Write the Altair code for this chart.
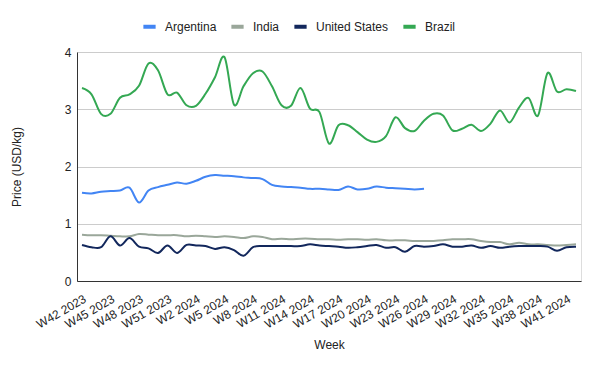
import altair as alt
import pandas as pd

weeks = ([f"W{w} 2023" for w in range(42, 53)] + [f"W{w} 2024" for w in range(1, 43)])
tick_labels = weeks[::3]

argentina = [1.54, 1.53, 1.56, 1.57, 1.58, 1.63, 1.37, 1.58, 1.64, 1.68,
             1.72, 1.70, 1.75, 1.82, 1.85, 1.84, 1.83, 1.81, 1.80, 1.78,
             1.68, 1.65, 1.64, 1.63, 1.61, 1.61, 1.60, 1.59, 1.65, 1.60,
             1.61, 1.65, 1.63, 1.62, 1.61, 1.60, 1.61]
india = [0.81, 0.80, 0.80, 0.79, 0.78, 0.78, 0.82, 0.81, 0.80, 0.80,
         0.80, 0.78, 0.79, 0.78, 0.77, 0.78, 0.77, 0.75, 0.78, 0.77,
         0.73, 0.74, 0.73, 0.74, 0.74, 0.73, 0.73, 0.72, 0.73, 0.73,
         0.72, 0.73, 0.71, 0.71, 0.71, 0.70, 0.70, 0.70, 0.71, 0.73,
         0.73, 0.73, 0.70, 0.68, 0.68, 0.64, 0.67, 0.64, 0.64, 0.63,
         0.62, 0.63, 0.64]
united_states = [0.63, 0.59, 0.59, 0.78, 0.62, 0.75, 0.60, 0.57, 0.49, 0.62,
                 0.49, 0.63, 0.62, 0.61, 0.56, 0.59, 0.54, 0.44, 0.59, 0.61,
                 0.61, 0.61, 0.61, 0.61, 0.64, 0.62, 0.61, 0.60, 0.58, 0.59,
                 0.61, 0.63, 0.58, 0.59, 0.51, 0.61, 0.60, 0.61, 0.64, 0.60,
                 0.60, 0.62, 0.58, 0.61, 0.58, 0.60, 0.61, 0.61, 0.61, 0.60,
                 0.53, 0.59, 0.60]
brazil = [3.37, 3.26, 2.92, 2.92, 3.20, 3.26, 3.41, 3.80, 3.68, 3.26,
          3.29, 3.07, 3.06, 3.27, 3.56, 3.91, 3.08, 3.40, 3.63, 3.66,
          3.40, 3.07, 3.06, 3.37, 3.01, 2.95, 2.40, 2.72, 2.72, 2.60,
          2.47, 2.43, 2.53, 2.86, 2.67, 2.62, 2.80, 2.92, 2.89, 2.63,
          2.66, 2.73, 2.62, 2.75, 2.98, 2.77, 3.03, 3.20, 2.89, 3.63,
          3.31, 3.35, 3.32]

series = ["Argentina", "India", "United States", "Brazil"]
colors = ["#4285f4", "#9aa79a", "#12275c", "#34a853"]
values = [argentina, india, united_states, brazil]

rows = []
for name, vals in zip(series, values):
    for i, v in enumerate(vals):
        rows.append({"week": weeks[i], "idx": i, "country": name, "price": v})
df = pd.DataFrame(rows)

font = "Liberation Sans"

chart = alt.Chart(df).mark_line(
    interpolate="cardinal", strokeWidth=2
).encode(
    x=alt.X("week:O", sort=weeks,
            scale=alt.Scale(type="point", padding=0.526, domain=weeks),
            axis=alt.Axis(values=tick_labels, labelAngle=330, labelAlign="right",
                          labelBaseline="top", labelPadding=12, ticks=False,
                          grid=False, domainColor="#333333", title="Week",
                          titlePadding=10, labelFont=font, labelFontSize=12,
                          labelColor="#222222", titleFont=font, titleFontSize=12,
                          titleFontWeight="normal", titleColor="#222222")),
    y=alt.Y("price:Q",
            scale=alt.Scale(domain=[0, 4], nice=False),
            axis=alt.Axis(values=[0, 1, 2, 3, 4], ticks=False, labelPadding=6,
                          grid=True, gridColor="#cccccc", domainColor="#333333",
                          title="Price (USD/kg)", titlePadding=41,
                          labelFont=font, labelFontSize=12, labelColor="#222222",
                          titleFont=font, titleFontSize=12,
                          titleFontWeight="normal", titleColor="#222222")),
    color=alt.Color("country:N",
                    scale=alt.Scale(domain=series, range=colors),
                    sort=series,
                    legend=alt.Legend(title=None, orient="none", direction="horizontal",
                                      legendX=64, legendY=-34,
                                      symbolType="stroke", symbolStrokeWidth=4,
                                      symbolSize=150, labelOffset=7,
                                      columnPadding=6, labelFont=font,
                                      labelFontSize=12, labelColor="#222222")),
    order=alt.Order("idx:Q"),
).properties(
    width=504, height=229,
    autosize=alt.AutoSizeParams(type="none"),
    padding={"left": 69, "top": 44, "right": 11, "bottom": 82},
).configure_view(stroke=None).configure(background="white")

chart.save("out.html", embed_options={"renderer": "svg", "actions": False})
